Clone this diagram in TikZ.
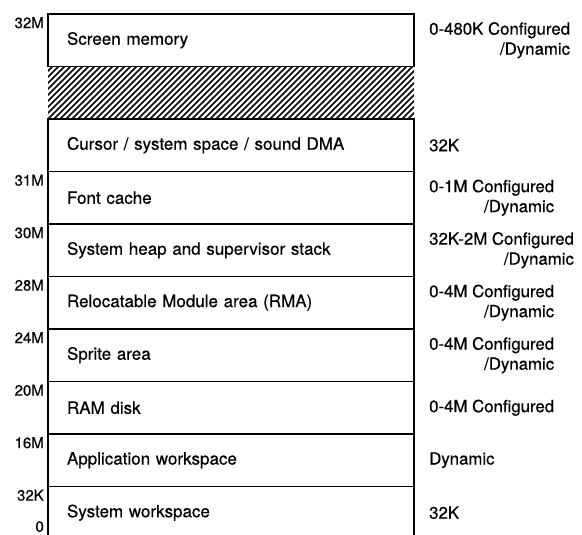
\documentclass[tikz,border=0pt]{standalone}
\usepackage{fontspec}
\setmainfont[FakeBold=0.5]{TeX Gyre Heros}
\usetikzlibrary{positioning}

\begin{document}
\begin{tikzpicture}[
  x=1pt, y=1pt,
  band/.style={draw, line width=1.3pt, minimum width=366pt, minimum height=52.5pt,
    text width=328pt, inner xsep=19pt, inner ysep=0pt, outer sep=0pt, align=left,
    font=\fontsize{17}{19}\selectfont},
  hatch/.style={minimum width=366pt, minimum height=52.5pt, inner sep=0pt, outer sep=0pt,
    path picture={
      \foreach \k in {0,6,...,426}
        \draw[line width=1.7pt] ([xshift=\k pt-60pt]path picture bounding box.south west) -- ++(60pt,60pt);
    }},
  addr/.style={anchor=north east, inner sep=0pt, font=\fontsize{15}{17}\selectfont},
  size/.style={anchor=west, inner sep=0pt, align=right, font=\fontsize{16.8}{20}\selectfont}
]
\useasboundingbox (0,0) rectangle (582,535);
% memory bands, top to bottom
\node[band, anchor=north west] (screen) at (48,521) {Screen memory};
\node[hatch, below=0pt of screen] (gap) {};
\node[band, below=0pt of gap] (cursor) {Cursor / system space / sound DMA};
\node[band, below=0pt of cursor] (fontc) {Font cache};
\node[band, below=0pt of fontc] (heap) {System heap and supervisor stack};
\node[band, below=0pt of heap] (rma) {Relocatable Module area (RMA)};
\node[band, below=0pt of rma] (sprite) {Sprite area};
\node[band, below=0pt of sprite] (ramdisk) {RAM disk};
\node[band, below=0pt of ramdisk] (appws) {Application workspace};
\node[band, below=0pt of appws] (sysws) {System workspace};
% addresses
\node[addr] (a32M) at ([xshift=-4pt, yshift=-3pt]screen.north west) {32M};
\node[addr] (a31M) at ([xshift=-4pt, yshift=-3pt]fontc.north west) {31M};
\node[addr] (a30M) at ([xshift=-4pt, yshift=-3pt]heap.north west) {30M};
\node[addr] (a28M) at ([xshift=-4pt, yshift=-3pt]rma.north west) {28M};
\node[addr] (a24M) at ([xshift=-4pt, yshift=-3pt]sprite.north west) {24M};
\node[addr] (a20M) at ([xshift=-4pt, yshift=-3pt]ramdisk.north west) {20M};
\node[addr] (a16M) at ([xshift=-4pt, yshift=-3pt]appws.north west) {16M};
\node[addr] (a32K) at ([xshift=-4pt, yshift=-3pt]sysws.north west) {32K};
\node[addr] (a0) at (44,14) {0};
% sizes
\node[size] (s-screen) at ([xshift=15pt]screen.east) {0-480K Configured\\/Dynamic};
\node[size] (s-cursor) at ([xshift=15pt]cursor.east) {32K};
\node[size] (s-fontc) at ([xshift=15pt]fontc.east) {0-1M Configured\\/Dynamic};
\node[size] (s-heap) at ([xshift=15pt]heap.east) {32K-2M Configured\\/Dynamic};
\node[size] (s-rma) at ([xshift=15pt]rma.east) {0-4M Configured\\/Dynamic};
\node[size] (s-sprite) at ([xshift=15pt]sprite.east) {0-4M Configured\\/Dynamic};
\node[size] (s-ramdisk) at ([xshift=15pt]ramdisk.east) {0-4M Configured};
\node[size] (s-appws) at ([xshift=15pt]appws.east) {Dynamic};
\node[size] (s-sysws) at ([xshift=15pt]sysws.east) {32K};
\end{tikzpicture}
\end{document}
